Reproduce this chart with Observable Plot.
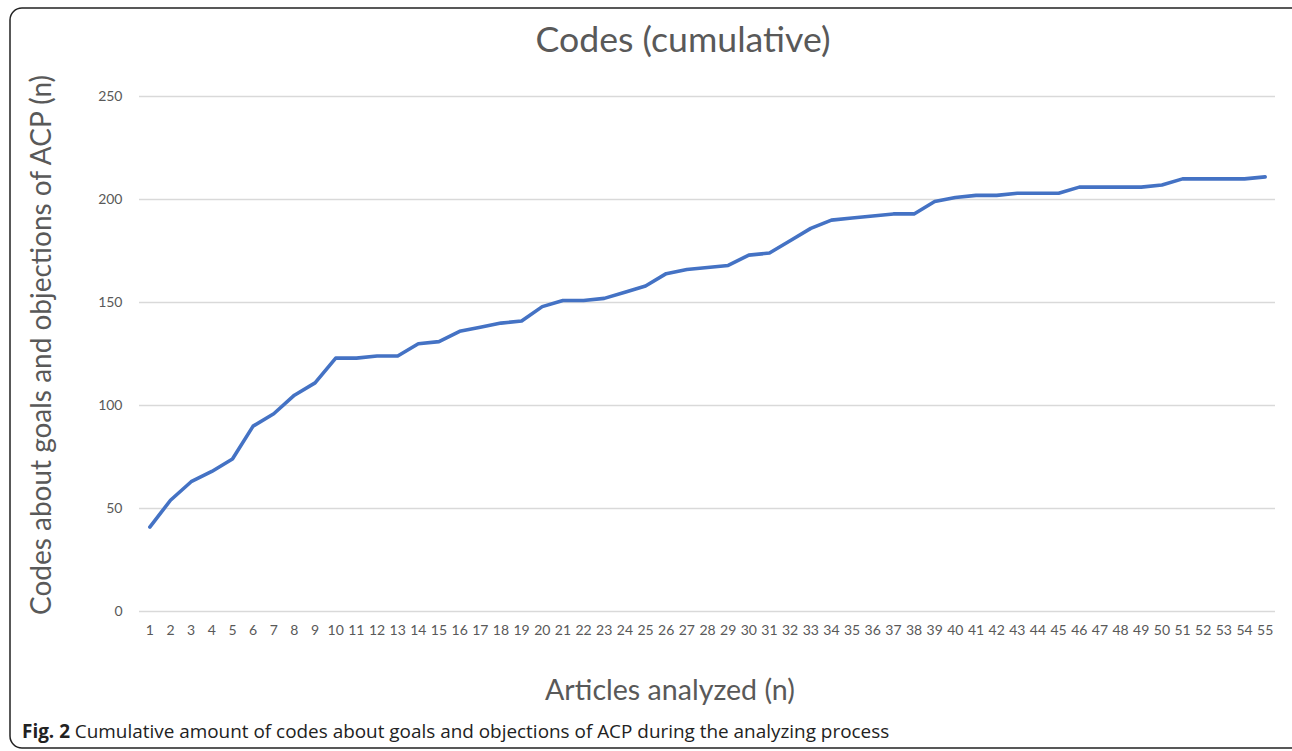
<!DOCTYPE html>
<html>
<head>
<meta charset="utf-8">
<script src="https://cdn.jsdelivr.net/npm/d3@7"></script>
<script src="https://cdn.jsdelivr.net/npm/@observablehq/plot@0.6"></script>
<style>
  html, body { margin: 0; padding: 0; background: #fff; }
  #chart svg { display: block; }
</style>
</head>
<body>
<div id="chart"></div>
<script>
const articles = d3.range(1, 56);
const codes = [41,54,63,68,74,90,96,105,111,123,123,124,124,130,131,136,138,140,141,148,
  151,151,152,155,158,164,166,167,168,173,174,180,186,190,191,192,193,193,199,201,
  202,202,203,203,203,206,206,206,206,207,210,210,210,210,211];
const yTicks = [0, 50, 100, 150, 200, 250];
const titleText = "Codes (cumulative)";
const xLabel = "Articles analyzed (n)";
const yLabel = "Codes about goals and objections of ACP (n)";
const captionBold = "Fig. 2";
const captionText = " Cumulative amount of codes about goals and objections of ACP during the analyzing process";

const data = articles.map((a, i) => ({article: a, codes: codes[i]}));
const font = "Lato, 'Open Sans', sans-serif";
const gray = "#595959";

const chart = Plot.plot({
  width: 1292,
  height: 751,
  marginLeft: 139,
  marginRight: 17,
  marginTop: 96,
  marginBottom: 140,
  style: {fontFamily: font, fontSize: "14px", color: gray, background: "#fff"},
  x: {type: "point", domain: articles, padding: 0.5, label: null, tickSize: 0, tickPadding: 14},
  y: {domain: [0, 250], ticks: yTicks, label: null, tickSize: 0, tickPadding: 17},
  marks: [
    Plot.gridY(yTicks, {stroke: "#d9d9d9", strokeOpacity: 1, strokeWidth: 1.3}),
    Plot.axisX({tickSize: 0, tickPadding: 14, fontSize: 14, fill: gray}),
    Plot.axisY(yTicks, {tickSize: 0, tickPadding: 17, fontSize: 14, fill: gray}),
    Plot.line(data, {x: "article", y: "codes", stroke: "#4472C4", strokeWidth: 3.6, strokeLinejoin: "round", strokeLinecap: "round"})
  ]
});

document.getElementById("chart").appendChild(chart);
const svg = d3.select(chart);
svg.insert("rect", ":first-child")
  .attr("x", 10).attr("y", 8).attr("width", 1300).attr("height", 740)
  .attr("rx", 12).attr("fill", "none").attr("stroke", "#222").attr("stroke-width", 1.5);

function fitText(sel, width) {
  const node = sel.node();
  const len = node.getComputedTextLength();
  const fs = parseFloat(sel.attr("font-size"));
  if (len > 0) sel.attr("font-size", fs * width / len);
}

const t = svg.append("text").text(titleText)
  .attr("x", 683).attr("y", 52).attr("text-anchor", "middle")
  .attr("font-family", font).attr("font-size", 32).attr("fill", gray);
fitText(t, 295);

const xl = svg.append("text").text(xLabel)
  .attr("x", 670).attr("y", 700).attr("text-anchor", "middle")
  .attr("font-family", font).attr("font-size", 27).attr("fill", gray);
fitText(xl, 250);

const yl = svg.append("text").text(yLabel)
  .attr("transform", "translate(51,345) rotate(-90)").attr("text-anchor", "middle")
  .attr("font-family", font).attr("font-size", 27).attr("fill", gray);
fitText(yl, 540);

const cap = svg.append("text").attr("x", 22).attr("y", 738).attr("text-anchor", "start")
  .attr("font-family", "'Open Sans', sans-serif").attr("font-size", 17.5).attr("fill", "#222");
cap.append("tspan").attr("font-weight", "bold").text(captionBold);
cap.append("tspan").text(captionText);
fitText(cap, 868);
</script>
</body>
</html>
